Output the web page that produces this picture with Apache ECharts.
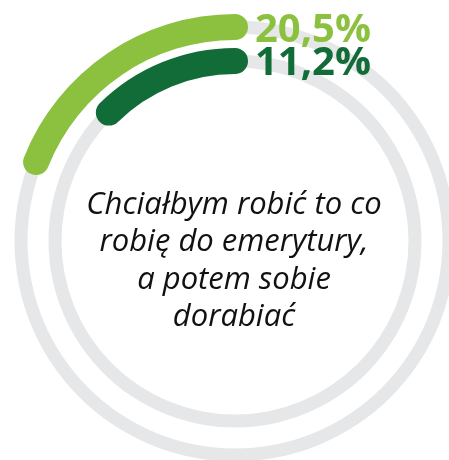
<!DOCTYPE html>
<html>
<head>
<meta charset="utf-8">
<script src="https://cdn.jsdelivr.net/npm/echarts@6/dist/echarts.min.js"></script>
<style>
html,body{margin:0;padding:0;background:#fff;}
#chart{width:449px;height:460px;}
</style>
</head>
<body>
<div id="chart"></div>
<script>
// Data
const seriesNames = ['outer', 'inner'];
const values = [20.5, 11.2];
const scaleMax = [108, 90.6];
const caption = ['Chciałbym robić to co', 'robię do emerytury,', 'a potem sobie', 'dorabiać'];

const colors = ['#8BC13F', '#116C37'];
const track = '#E6E7E8';
const cx = 235, cy = 241;
const ringR = [214, 180];
const labelOffsets = [[78, -210], [78, -177]];

const hidden = {
  splitLine: {show: false}, axisTick: {show: false}, axisLabel: {show: false},
  pointer: {show: false}, anchor: {show: false}, title: {show: false}
};

const series = [];
values.forEach((v, i) => {
  series.push(Object.assign({
    type: 'gauge', silent: true, center: [cx, cy], radius: ringR[i] + 6.5,
    startAngle: 90, endAngle: -270, min: 0, max: 100,
    axisLine: {show: true, lineStyle: {width: 13, color: [[1, track]]}},
    progress: {show: false}, detail: {show: false}, data: [{value: 0}]
  }, hidden));
  series.push(Object.assign({
    type: 'gauge', silent: true, name: seriesNames[i], center: [cx, cy], radius: ringR[i] + 13,
    startAngle: 90, endAngle: 450, clockwise: false, min: 0, max: scaleMax[i],
    axisLine: {show: false},
    progress: {show: true, width: 26, roundCap: true, itemStyle: {color: colors[i]}},
    detail: {
      show: true, offsetCenter: labelOffsets[i], fontSize: 40, fontWeight: 'bold',
      fontFamily: 'Open Sans', color: colors[i],
      formatter: val => val.toFixed(1).replace('.', ',') + '%'
    },
    data: [{value: v}]
  }, hidden));
});

const chart = echarts.init(document.getElementById('chart'), null, {renderer: 'canvas'});
chart.setOption({
  animation: false,
  series: series,
  graphic: [{
    type: 'text',
    x: 234, y: 261,
    style: {
      text: caption.join('\n'), fontSize: 31, fontStyle: 'italic',
      fontFamily: 'Open Sans', fill: '#111', lineHeight: 37.5,
      align: 'center', verticalAlign: 'middle'
    }
  }]
});
</script>
</body>
</html>
